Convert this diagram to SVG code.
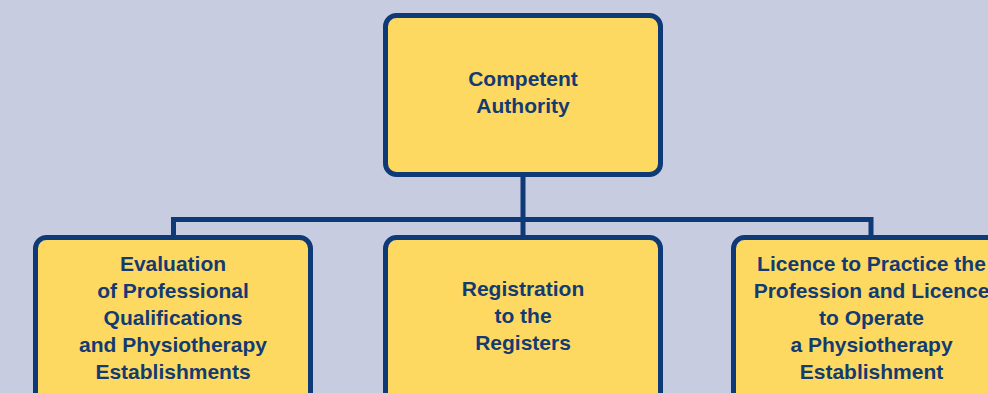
<svg xmlns="http://www.w3.org/2000/svg" width="988" height="393" viewBox="0 0 988 393">
  <style>
    .box { fill: #FED961; stroke: #0E3A78; stroke-width: 5; }
    .lbl { font-family: "Liberation Sans", Arial, sans-serif; font-weight: bold; font-size: 21px; fill: #133B72; text-anchor: middle; }
    .conn { fill: none; stroke: #0E3A78; stroke-width: 5; stroke-linejoin: miter; }
  </style>
  <rect x="0" y="0" width="988" height="393" fill="#C8CCE0"/>
  <g id="connectors">
    <path class="conn" d="M523 176 V237"/>
    <path class="conn" d="M173.5 236 V219.5 H871 V236"/>
  </g>
  <g id="competent-authority">
    <rect class="box" x="385.5" y="15.5" width="275" height="159" rx="11"/>
    <text class="lbl" x="523" y="86">Competent</text>
    <text class="lbl" x="523" y="113">Authority</text>
  </g>
  <g id="evaluation">
    <rect class="box" x="35.5" y="237.5" width="275" height="200" rx="11"/>
    <text class="lbl" x="173" y="271">Evaluation</text>
    <text class="lbl" x="173" y="298">of Professional</text>
    <text class="lbl" x="173" y="325">Qualifications</text>
    <text class="lbl" x="173" y="352">and Physiotherapy</text>
    <text class="lbl" x="173" y="379">Establishments</text>
  </g>
  <g id="registration">
    <rect class="box" x="385.5" y="237.5" width="275" height="200" rx="11"/>
    <text class="lbl" x="523" y="296">Registration</text>
    <text class="lbl" x="523" y="323">to the</text>
    <text class="lbl" x="523" y="350">Registers</text>
  </g>
  <g id="licence">
    <rect class="box" x="733.5" y="237.5" width="275" height="200" rx="11"/>
    <text class="lbl" x="871.5" y="271">Licence to Practice the</text>
    <text class="lbl" x="871.5" y="298">Profession and Licence</text>
    <text class="lbl" x="871.5" y="325">to Operate</text>
    <text class="lbl" x="871.5" y="352">a Physiotherapy</text>
    <text class="lbl" x="871.5" y="379">Establishment</text>
  </g>
</svg>
